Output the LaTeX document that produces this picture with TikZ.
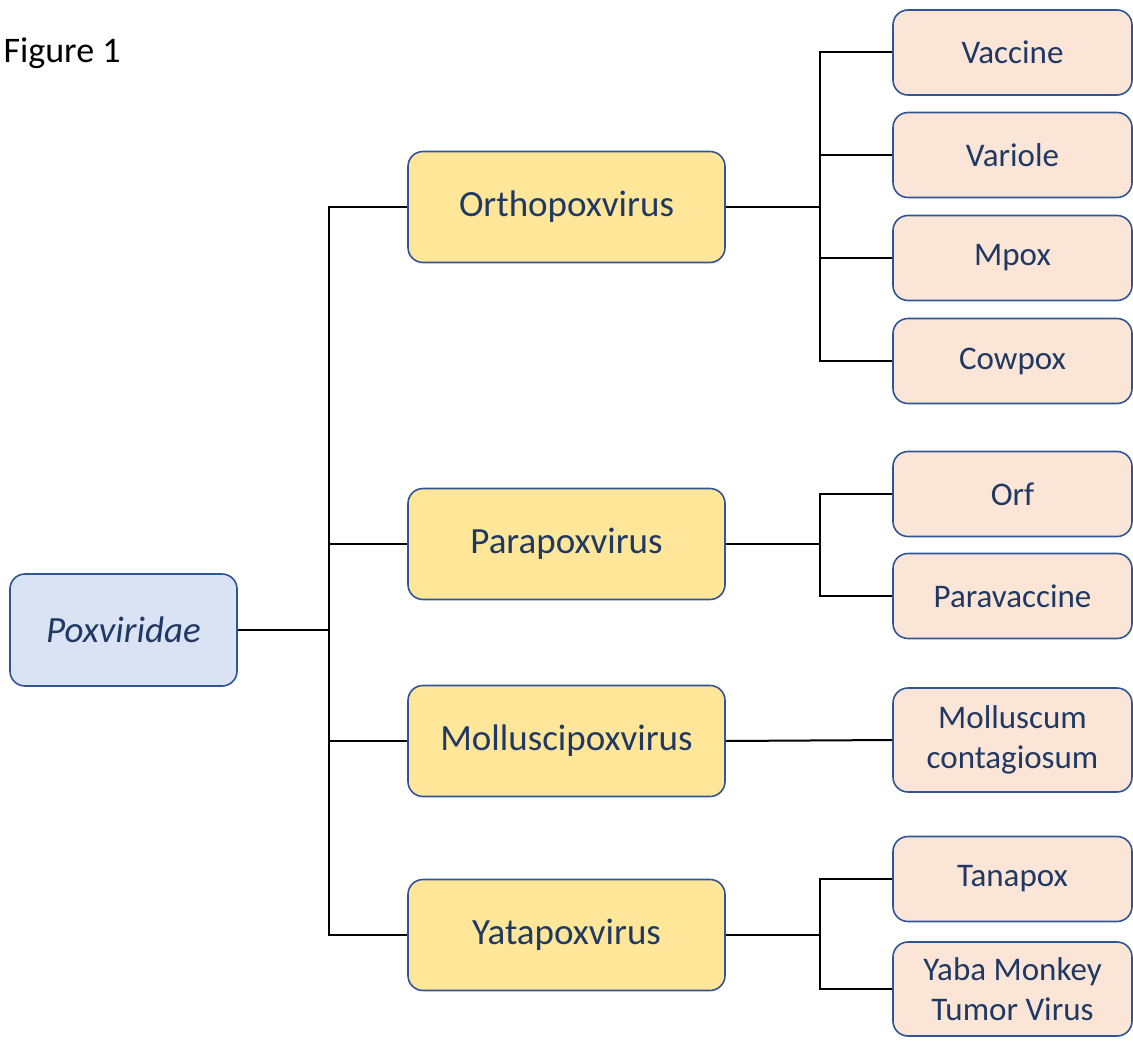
\documentclass[tikz,border=0pt]{standalone}
\usepackage{fontspec}
\setmainfont{Carlito}
\definecolor{txt}{HTML}{1F3864}
\definecolor{edge}{HTML}{2F5597}
\definecolor{yel}{HTML}{FFE699}
\definecolor{peach}{HTML}{FBE5D6}
\definecolor{blu}{HTML}{DAE3F3}
\tikzset{
  box/.style={draw=edge, line width=1.6pt, rounded corners=15pt, text=txt, align=center, inner sep=0pt,
    font=\fontsize{37}{44}\selectfont},
  rootbox/.style={box, fill=blu, minimum width=227pt, minimum height=112pt},
  genbox/.style={box, fill=yel, minimum width=317pt, minimum height=111pt},
  spbox/.style={box, fill=peach, minimum width=239pt, minimum height=85pt, font=\fontsize{33}{40}\selectfont},
  link/.style={draw=black, line width=2pt},
}
\begin{document}
\begin{tikzpicture}[x=1pt,y=-1pt]
\useasboundingbox (0,0) rectangle (1133,1041);
\node[anchor=west, font=\fontsize{36}{43}\selectfont] (fig) at (0,53) {Figure 1};

\node[rootbox] (pox) at (123.5,630) {\itshape Poxviridae};

\node[genbox] (ortho) at (566.5,207) {Orthopoxvirus};
\node[genbox] (para) at (566.5,544) {Parapoxvirus};
\node[genbox] (moll) at (566.5,741) {Molluscipoxvirus};
\node[genbox] (yata) at (566.5,935) {Yatapoxvirus};

\node[spbox] (vacc) at (1012.5,52.5) {Vaccine};
\node[spbox] (vari) at (1012.5,155) {Variole};
\node[spbox] (mpox) at (1012.5,258) {Mpox};
\node[spbox] (cow) at (1012.5,361) {Cowpox};
\node[spbox] (orf) at (1012.5,494) {Orf};
\node[spbox] (parav) at (1012.5,596) {Paravaccine};
\node[spbox, minimum height=104pt] (mc) at (1012.5,740) {Molluscum\\contagiosum};
\node[spbox] (tana) at (1012.5,879) {Tanapox};
\node[spbox, minimum height=94pt] (yaba) at (1012.5,989) {Yaba Monkey\\Tumor Virus};

% trunk
\coordinate (t) at (329,630);
\draw[link] (pox.east) -- (t);
\draw[link] (ortho.west) -| (t) |- (yata.west);
\draw[link] (t |- para.west) -- (para.west);
\draw[link] (t |- moll.west) -- (moll.west);

% orthopox
\coordinate (o) at (820,207);
\draw[link] (ortho.east) -- (o);
\draw[link] (vacc.west) -| (o) |- (cow.west);
\draw[link] (o |- vari.west) -- (vari.west);
\draw[link] (o |- mpox.west) -- (mpox.west);

% parapox
\coordinate (p) at (820,544);
\draw[link] (para.east) -- (p);
\draw[link] (orf.west) -| (p) |- (parav.west);

% mollusci
\draw[link] (moll.east) -- (mc.west);

% yatapox
\coordinate (y) at (820,935);
\draw[link] (yata.east) -- (y);
\draw[link] (tana.west) -| (y) |- (yaba.west);
\end{tikzpicture}
\end{document}
